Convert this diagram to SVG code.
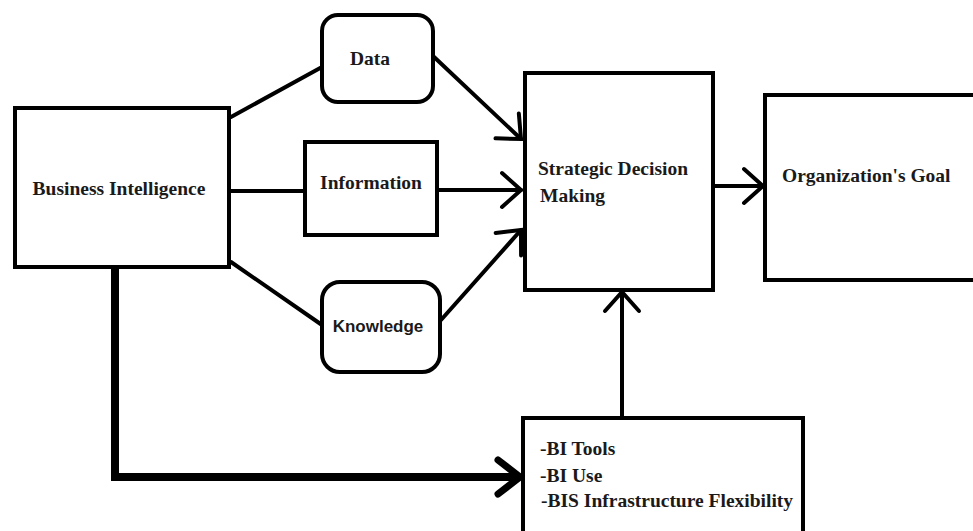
<svg xmlns="http://www.w3.org/2000/svg" width="973" height="531" viewBox="0 0 973 531">
  <style>
    .box { fill: #ffffff; stroke: #000000; stroke-width: 4; }
    .lbl { font-family: "Liberation Serif", "Times New Roman", serif; font-weight: bold; font-size: 19.5px; fill: #1a1a1a; }
    .lbl-sans { font-family: "Liberation Sans", Arial, sans-serif; font-weight: bold; font-size: 17px; fill: #1a1a1a; }
    .edge { fill: none; stroke: #000000; stroke-width: 4; stroke-linecap: round; }
    .edge-thick { fill: none; stroke: #000000; stroke-width: 8; stroke-linecap: butt; }
  </style>
  <defs>
    <marker id="arrow" markerUnits="userSpaceOnUse" viewBox="-24 -22 28 44" markerWidth="28" markerHeight="44" refX="0" refY="0" orient="auto" overflow="visible">
      <path d="M-19,-17 L0,0 L-19,17" fill="none" stroke="#000" stroke-width="4" stroke-linecap="round" stroke-linejoin="miter"/>
    </marker>
    <marker id="arrow-thick" markerUnits="userSpaceOnUse" viewBox="-28 -24 32 48" markerWidth="32" markerHeight="48" refX="0" refY="0" orient="auto" overflow="visible">
      <path d="M-22,-17 L0,0 L-22,17" fill="none" stroke="#000" stroke-width="7" stroke-linecap="round" stroke-linejoin="miter"/>
    </marker>
  </defs>

  <rect width="973" height="531" fill="#ffffff"/>

  <!-- connectors -->
  <g id="connectors">
    <line class="edge" x1="231" y1="117" x2="322" y2="67"/>
    <line class="edge" x1="231" y1="191" x2="305" y2="191"/>
    <line class="edge" x1="231" y1="262" x2="322" y2="325"/>
    <line class="edge" x1="433" y1="56" x2="521" y2="139" marker-end="url(#arrow)"/>
    <line class="edge" x1="437" y1="190" x2="521" y2="190" marker-end="url(#arrow)"/>
    <line class="edge" x1="441" y1="320" x2="521" y2="230" marker-end="url(#arrow)"/>
    <line class="edge" x1="713" y1="186" x2="763" y2="186" marker-end="url(#arrow)"/>
    <line class="edge" x1="622" y1="418" x2="622" y2="292" marker-end="url(#arrow)"/>
    <polyline class="edge-thick" points="115,267 115,477 520,477" marker-end="url(#arrow-thick)"/>
  </g>

  <g id="business-intelligence">
    <rect class="box" x="15" y="108" width="214" height="159"/>
    <text class="lbl" x="119" y="195" text-anchor="middle">Business Intelligence</text>
  </g>

  <g id="data">
    <rect class="box" x="322" y="15" width="111" height="87" rx="16" ry="16"/>
    <text class="lbl" x="370" y="65" text-anchor="middle">Data</text>
  </g>

  <g id="information">
    <rect class="box" x="305" y="142" width="132" height="93"/>
    <text class="lbl" x="371" y="189" text-anchor="middle">Information</text>
  </g>

  <g id="knowledge">
    <rect class="box" x="322" y="282" width="118" height="90" rx="18" ry="18"/>
    <text class="lbl-sans" x="378" y="332" text-anchor="middle">Knowledge</text>
  </g>

  <g id="strategic-decision-making">
    <rect class="box" x="525" y="73" width="188" height="217"/>
    <text class="lbl" x="538" y="175">Strategic Decision</text>
    <text class="lbl" x="540" y="202">Making</text>
  </g>

  <g id="organizations-goal">
    <rect class="box" x="765" y="95" width="220" height="185"/>
    <text class="lbl" x="782" y="182">Organization's Goal</text>
  </g>

  <g id="bi-factors">
    <rect class="box" x="523" y="418" width="280" height="118"/>
    <text class="lbl" x="540" y="455">-BI Tools</text>
    <text class="lbl" x="540" y="482">-BI Use</text>
    <text class="lbl" x="541" y="507">-BIS Infrastructure Flexibility</text>
  </g>
</svg>
